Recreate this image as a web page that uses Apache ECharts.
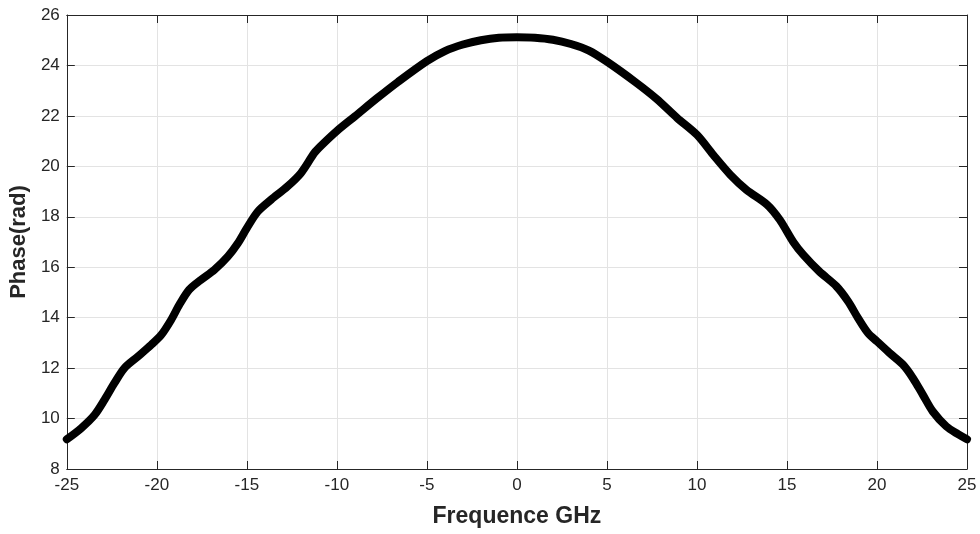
<!DOCTYPE html>
<html>
<head>
<meta charset="utf-8">
<script src="https://cdn.jsdelivr.net/npm/echarts@6/dist/echarts.min.js"></script>
<style>html,body{margin:0;padding:0;background:#fff}#c{width:980px;height:534px}</style>
</head>
<body>
<div id="c"></div>
<script>
const freqGHz = [-25,-24.2,-23.45,-22.9,-22.35,-21.8,-21.05,-20.3,-19.75,-19.2,-18.75,-18.2,-17.55,-16.8,-16.05,-15.5,-15,-14.4,-13.65,-12.75,-12,-11.25,-10.9,-10,-9,-7.75,-6.6,-5,-4,-3,-2,-1,0,1,2,3,4,5,6.6,7.75,8.9,10,10.9,11.85,12.75,13.9,14.6,15.35,15.9,16.8,17.75,18.4,18.95,19.5,20,20.7,21.45,22,22.55,23.1,23.85,24.5,25];
const phaseRad = [9.18,9.62,10.15,10.75,11.41,12.0,12.46,12.93,13.32,13.92,14.51,15.11,15.5,15.9,16.43,16.95,17.55,18.2,18.68,19.2,19.73,20.53,20.8,21.4,21.98,22.71,23.35,24.17,24.57,24.83,25.0,25.1,25.12,25.1,25.02,24.85,24.59,24.15,23.33,22.68,21.92,21.25,20.46,19.67,19.07,18.48,17.88,17.0,16.5,15.83,15.24,14.64,13.98,13.39,13.06,12.6,12.13,11.6,10.94,10.28,9.69,9.38,9.18];
const xTicks = [-25,-20,-15,-10,-5,0,5,10,15,20,25];
const yTicks = [8,10,12,14,16,18,20,22,24,26];

const chart = echarts.init(document.getElementById('c'), null, {renderer:'canvas'});
const font = 'Liberation Sans, Arial, sans-serif';
const axColor = '#262626';
const gridLine = {show:true, lineStyle:{color:'#e3e3e3', width:1}};
const data = freqGHz.map((f,i)=>[f, phaseRad[i]]);
chart.setOption({
  animation:false,
  backgroundColor:'#fff',
  grid:{left:65, top:15, right:13, bottom:65, containLabel:false},
  xAxis:[{
    type:'value', min:xTicks[0], max:xTicks[xTicks.length-1], interval:5,
    name:'Frequence GHz', nameLocation:'middle', nameGap:36,
    nameTextStyle:{fontFamily:font, fontWeight:'bold', fontSize:23, color:axColor},
    axisLine:{show:true, onZero:false, lineStyle:{color:axColor, width:1}},
    axisTick:{show:true, inside:true, length:8, lineStyle:{color:axColor}},
    axisLabel:{fontFamily:font, fontSize:17, color:axColor, margin:8},
    splitLine:gridLine
  },{
    type:'value', position:'top', min:xTicks[0], max:xTicks[xTicks.length-1], interval:5,
    axisLine:{show:true, onZero:false, lineStyle:{color:axColor, width:1}},
    axisTick:{show:true, inside:true, length:8, lineStyle:{color:axColor}},
    axisLabel:{show:false}, splitLine:{show:false}
  }],
  yAxis:[{
    type:'value', min:yTicks[0], max:yTicks[yTicks.length-1], interval:2,
    name:'Phase(rad)', nameLocation:'middle', nameGap:31, nameRotate:90,
    nameTextStyle:{fontFamily:font, fontWeight:'bold', fontSize:22, color:axColor},
    axisLine:{show:true, onZero:false, lineStyle:{color:axColor, width:1}},
    axisTick:{show:true, inside:true, length:8, lineStyle:{color:axColor}},
    axisLabel:{fontFamily:font, fontSize:17, color:axColor, margin:7},
    splitLine:gridLine
  },{
    type:'value', position:'right', min:yTicks[0], max:yTicks[yTicks.length-1], interval:2,
    axisLine:{show:true, onZero:false, lineStyle:{color:axColor, width:1}},
    axisTick:{show:true, inside:true, length:8, lineStyle:{color:axColor}},
    axisLabel:{show:false}, splitLine:{show:false}
  }],
  series:[{
    type:'line', data:data, smooth:0.3, showSymbol:false, symbol:'none',
    lineStyle:{color:'#000', width:8, cap:'round', join:'round'},
    xAxisIndex:0, yAxisIndex:0
  }]
});
</script>
</body>
</html>
